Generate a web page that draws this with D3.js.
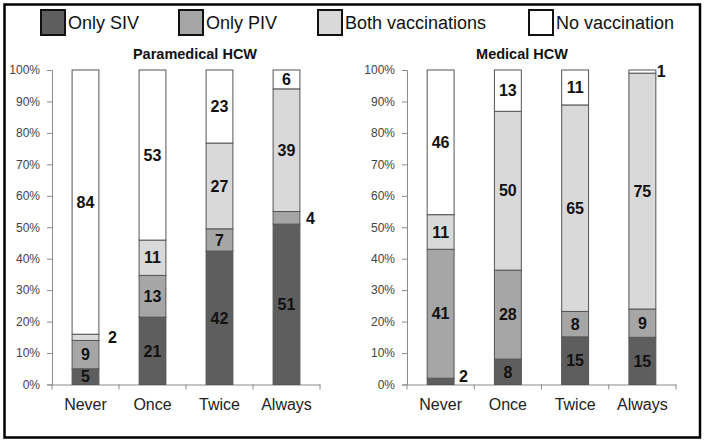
<!DOCTYPE html>
<html>
<head>
<meta charset="utf-8">
<script src="https://cdn.jsdelivr.net/npm/d3@7"></script>
<style>
  html, body { margin: 0; padding: 0; background: #fff; }
  svg { display: block; font-family: Arial, "Liberation Sans", sans-serif; }
</style>
</head>
<body>
<svg id="chart" width="706" height="444"></svg>
<script>
// ---- data ----
const categories = ["Never", "Once", "Twice", "Always"];
const seriesNames = ["Only SIV", "Only PIV", "Both vaccinations", "No vaccination"];
const panelTitles = ["Paramedical HCW", "Medical HCW"];
// counts per category (Never, Once, Twice, Always)
const paraOnlySIV = [5, 21, 42, 51];
const paraOnlyPIV = [9, 13, 7, 4];
const paraBoth    = [2, 11, 27, 39];
const paraNone    = [84, 53, 23, 6];
const medOnlySIV  = [2, 8, 15, 15];
const medOnlyPIV  = [41, 28, 8, 9];
const medBoth     = [11, 50, 65, 75];
const medNone     = [46, 13, 11, 1];
const yTicks = [0, 0.1, 0.2, 0.3, 0.4, 0.5, 0.6, 0.7, 0.8, 0.9, 1.0];

// ---- styles ----
const colors = ["#5e5e5e", "#a6a6a6", "#d9d9d9", "#ffffff"];
const keys = ["siv", "piv", "both", "none"];

const svg = d3.select("#chart");

// outer frame
svg.append("rect").attr("x", 4.5).attr("y", 4.5).attr("width", 695.5).attr("height", 433)
  .attr("fill", "none").attr("stroke", "#000").attr("stroke-width", 2.5);

// legend
const legendX = [41, 179, 318, 529];
seriesNames.forEach((name, i) => {
  const g = svg.append("g").attr("transform", `translate(${legendX[i]},10)`);
  g.append("rect").attr("x", 0).attr("y", 0).attr("width", 24).attr("height", 25)
    .attr("fill", colors[i]).attr("stroke", "#111").attr("stroke-width", 2);
  g.append("text").attr("x", 27).attr("y", 18.5).attr("font-size", 18)
    .attr("fill", "#111").text(name);
});

function makeRows(a, b, c, d) {
  return categories.map((cat, i) => ({ cat, siv: a[i], piv: b[i], both: c[i], none: d[i] }));
}

const panels = [
  { rows: makeRows(paraOnlySIV, paraOnlyPIV, paraBoth, paraNone), x0: 52, x1: 320, titleX: 195,
    outside: { "Never|both": 9, "Always|piv": 6 } },
  { rows: makeRows(medOnlySIV, medOnlyPIV, medBoth, medNone), x0: 407, x1: 676, titleX: 522,
    outside: { "Never|siv": 5, "Always|none": 1 } }
];

const yTop = 70, yBottom = 384.5;

panels.forEach((p, pi) => {
  const g = svg.append("g");
  const x = d3.scaleBand().domain(categories).range([p.x0, p.x1]).padding(0);
  const y = d3.scaleLinear().domain([0, 1]).range([yBottom, yTop]);
  const bw = x.bandwidth() * 0.4;

  // title
  g.append("text").attr("x", p.titleX).attr("y", 59).attr("text-anchor", "middle")
    .attr("font-size", 14.5).attr("font-weight", "bold").attr("fill", "#111")
    .text(panelTitles[pi]);

  // y axis
  const yAxis = g.append("g").attr("transform", `translate(${p.x0},0)`)
    .call(d3.axisLeft(y).tickValues(yTicks).tickFormat(d3.format(".0%")).tickSize(5).tickPadding(7));
  yAxis.selectAll("path,line").attr("stroke", "#8a8a8a");
  yAxis.selectAll("text").attr("font-size", 12).attr("fill", "#444")
    .attr("font-family", "Arial, 'Liberation Sans', sans-serif");

  // x axis
  const xAxis = g.append("g").attr("transform", `translate(0,${yBottom})`)
    .call(d3.axisBottom(x).tickSize(0).tickPadding(14.5));
  xAxis.select("path").attr("stroke", "#8a8a8a");
  xAxis.selectAll("text").attr("font-size", 16).attr("fill", "#222")
    .attr("font-family", "Arial, 'Liberation Sans', sans-serif");
  const bounds = categories.map(c => x(c)).concat([x.range()[1]]);
  xAxis.selectAll("line.bnd").data(bounds).enter().append("line").attr("class", "bnd")
    .attr("x1", d => d).attr("x2", d => d).attr("y1", 0).attr("y2", 5)
    .attr("stroke", "#8a8a8a");

  // stacks
  const stack = d3.stack().keys(keys).offset(d3.stackOffsetExpand);
  const series = stack(p.rows);

  series.forEach((s, si) => {
    g.selectAll(null).data(s).enter().append("rect")
      .attr("x", d => x(d.data.cat) + (x.bandwidth() - bw) / 2)
      .attr("y", d => y(d[1]))
      .attr("width", bw)
      .attr("height", d => y(d[0]) - y(d[1]))
      .attr("fill", colors[si])
      .attr("stroke", "#555").attr("stroke-width", 1);
  });

  series.forEach((s, si) => {
    s.forEach(d => {
      const key = d.data.cat + "|" + s.key;
      const val = d.data[s.key];
      const mid = y((d[0] + d[1]) / 2);
      const bx = x(d.data.cat) + x.bandwidth() / 2;
      if (p.outside[key] !== undefined) {
        g.append("text")
          .attr("x", bx + bw / 2 + p.outside[key])
          .attr("y", Math.min(mid, yBottom - 8))
          .attr("dy", "0.36em")
          .attr("font-size", 16).attr("font-weight", "bold").attr("fill", "#111")
          .text(val);
      } else {
        g.append("text")
          .attr("x", bx).attr("y", mid).attr("dy", "0.36em")
          .attr("text-anchor", "middle")
          .attr("font-size", 16).attr("font-weight", "bold").attr("fill", "#111")
          .text(val);
      }
    });
  });
});
</script>
</body>
</html>
